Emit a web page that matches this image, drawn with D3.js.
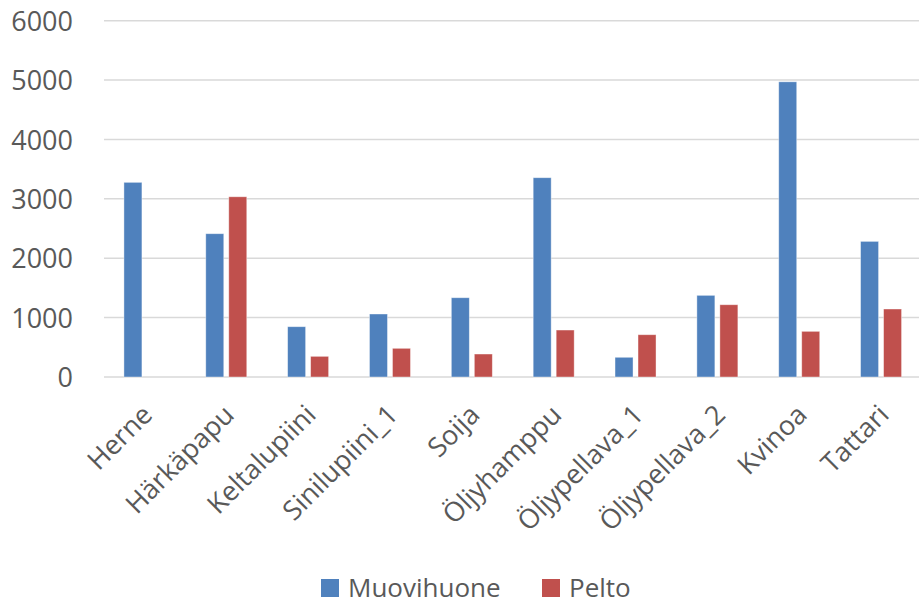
<!DOCTYPE html>
<html>
<head>
<meta charset="utf-8">
<script src="https://cdn.jsdelivr.net/npm/d3@7"></script>
<style>
  html, body { margin: 0; padding: 0; background: #fff; }
  svg { display: block; font-family: "Open Sans", sans-serif; }
</style>
</head>
<body>
<svg id="chart" width="919" height="606"></svg>
<script>
// Crops and yields per growing environment
const categories = ["Herne", "Härkäpapu", "Keltalupiini", "Sinilupiini_1", "Soija",
  "Öljyhamppu", "Öljypellava_1", "Öljypellava_2", "Kvinoa", "Tattari"];
const seriesNames = ["Muovihuone", "Pelto"];
const muovihuone = [3278, 2413, 847, 1061, 1335, 3356, 332, 1375, 4971, 2284];
const pelto = [null, 3035, 348, 483, 387, 791, 712, 1217, 769, 1145];
const yTicks = [0, 1000, 2000, 3000, 4000, 5000, 6000];
const colors = ["#4f81bd", "#c0504d"];

const svg = d3.select("#chart");
const textColor = "#595959";

const plot = { left: 104, right: 919, top: 20.7, bottom: 377 };

const y = d3.scaleLinear().domain([0, 6000]).range([plot.bottom, plot.top]);

const x0 = d3.scaleBand().domain(categories).range([103.5, 103.5 + 81.85 * categories.length]).padding(0);
const half = x0.bandwidth() / 2;
const x1 = d3.scaleBand().domain(seriesNames).range([half - 20.5, half + 20.5]).paddingInner(0.2174);

// Horizontal gridlines
svg.append("g")
  .selectAll("line")
  .data(yTicks)
  .join("line")
  .attr("x1", plot.left)
  .attr("x2", plot.right)
  .attr("y1", d => y(d))
  .attr("y2", d => y(d))
  .attr("stroke", "#d9d9d9")
  .attr("stroke-width", 1.5);

// Y axis labels
const yAxis = d3.axisLeft(y).tickValues(yTicks).tickFormat(d3.format("d")).tickSize(0).tickPadding(0);
const yg = svg.append("g").attr("transform", "translate(73,0)").call(yAxis);
yg.select(".domain").remove();
yg.selectAll("text")
  .attr("font-family", "'Open Sans', sans-serif")
  .attr("font-size", 27)
  .attr("fill", textColor)
  .attr("dy", "0.36em");

// Bars
const rows = categories.map((c, i) => ({ cat: c, values: [muovihuone[i], pelto[i]] }));
const groups = svg.append("g")
  .selectAll("g")
  .data(rows)
  .join("g")
  .attr("transform", d => `translate(${x0(d.cat)},0)`);

groups.selectAll("rect")
  .data(d => d.values.map((v, j) => ({ key: seriesNames[j], v, j })).filter(e => e.v != null))
  .join("rect")
  .attr("x", d => x1(d.key))
  .attr("width", x1.bandwidth())
  .attr("y", d => y(d.v))
  .attr("height", d => y(0) - y(d.v))
  .attr("fill", d => colors[d.j])
  .attr("stroke", "#ffffff")
  .attr("stroke-opacity", 0.5)
  .attr("stroke-width", 0.8);

// Category labels, rotated
const xAxis = d3.axisBottom(x0).tickSize(0).tickPadding(0);
const xg = svg.append("g").attr("transform", `translate(0,${plot.bottom})`).call(xAxis);
xg.select(".domain").remove();
xg.selectAll("text")
  .attr("font-family", "'Open Sans', sans-serif")
  .attr("font-size", 27)
  .attr("fill", textColor)
  .attr("text-anchor", "end")
  .attr("dy", null)
  .attr("y", null)
  .attr("transform", "translate(2,32) rotate(-45)")
  .attr("dominant-baseline", "central");

// Legend
const legend = svg.append("g");
const legendItems = [
  { name: seriesNames[0], color: colors[0], x: 321 },
  { name: seriesNames[1], color: colors[1], x: 542 }
];
legendItems.forEach(it => {
  legend.append("rect")
    .attr("x", it.x).attr("y", 579)
    .attr("width", 18).attr("height", 18)
    .attr("fill", it.color);
  legend.append("text")
    .attr("x", it.x + 27).attr("y", 597)
    .attr("font-size", 26)
    .attr("fill", textColor)
    .text(it.name);
});
</script>
</body>
</html>
